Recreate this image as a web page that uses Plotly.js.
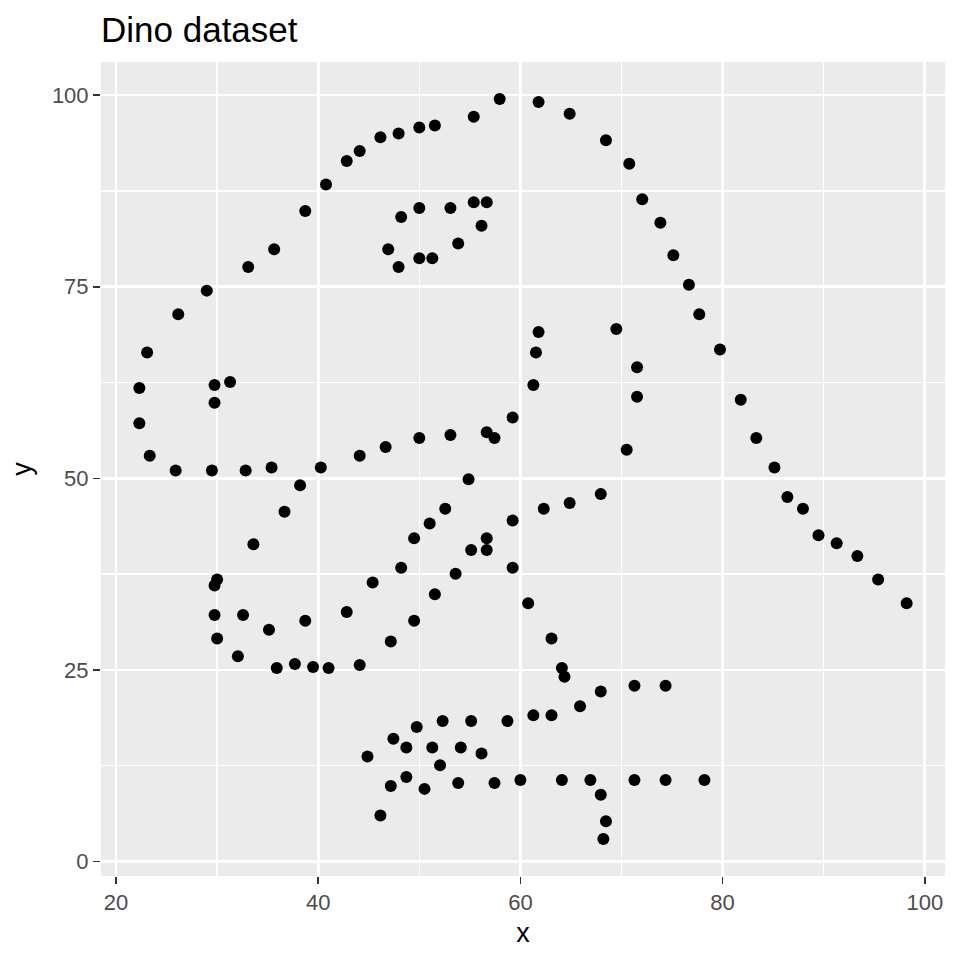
<!DOCTYPE html>
<html>
<head>
<meta charset="utf-8">
<script src="https://cdn.plot.ly/plotly-3.0.1.min.js"></script>
<style>
  html, body { margin: 0; padding: 0; background: #fff; }
  #chart { width: 960px; height: 960px; }
</style>
</head>
<body>
<div id="chart"></div>
<script>
// Datasaurus "dino" points
const dinoX = [
  55.3846, 51.5385, 46.1538, 42.8205, 40.7692, 38.7179, 35.641, 33.0769, 28.9744, 26.1538,
  23.0769, 22.3077, 22.3077, 23.3333, 25.8974, 29.4872, 32.8205, 35.3846, 40.2564, 44.1026,
  46.6667, 50, 53.0769, 56.6667, 59.2308, 61.2821, 61.5385, 61.7949, 57.4359, 54.8718,
  52.5641, 48.2051, 49.4872, 51.0256, 45.3846, 42.8205, 38.7179, 35.1282, 32.5641, 30,
  33.5897, 36.6667, 38.2051, 29.7436, 29.7436, 30, 32.0513, 35.8974, 41.0256, 44.1026,
  47.1795, 49.4872, 51.5385, 53.5897, 55.1282, 56.6667, 59.2308, 62.3077, 64.8718, 67.9487,
  70.5128, 71.5385, 71.5385, 69.4872, 46.9231, 48.2051, 50, 53.0769, 55.3846, 56.6667,
  56.1538, 53.8462, 51.2821, 50, 47.9487, 29.7436, 29.7436, 31.2821, 57.9487, 61.7949,
  64.8718, 68.4615, 70.7692, 72.0513, 73.8462, 75.1282, 76.6667, 77.6923, 79.7436, 81.7949,
  83.3333, 85.1282, 86.4103, 87.9487, 89.4872, 93.3333, 95.3846, 98.2051, 56.6667, 59.2308,
  60.7692, 63.0769, 64.1026, 64.359, 74.359, 71.2821, 67.9487, 65.8974, 63.0769, 61.2821,
  58.7179, 55.1282, 52.3077, 49.7436, 47.4359, 44.8718, 48.7179, 51.2821, 54.1026, 56.1538,
  52.0513, 48.7179, 47.1795, 46.1538, 50.5128, 53.8462, 57.4359, 60, 64.1026, 66.9231,
  71.2821, 74.359, 78.2051, 67.9487, 68.4615, 68.2051, 37.6923, 39.4872, 91.2821, 50,
  47.9487, 44.1026
];
const dinoY = [
  97.1795, 96.0256, 94.4872, 91.4103, 88.3333, 84.8718, 79.8718, 77.5641, 74.4872, 71.4103,
  66.4103, 61.7949, 57.1795, 52.9487, 51.0256, 51.0256, 51.0256, 51.4103, 51.4103, 52.9487,
  54.1026, 55.2564, 55.641, 56.0256, 57.9487, 62.1795, 66.4103, 69.1026, 55.2564, 49.8718,
  46.0256, 38.3333, 42.1795, 44.1026, 36.4103, 32.5641, 31.4103, 30.2564, 32.1795, 36.7949,
  41.4103, 45.641, 49.1026, 36.0256, 32.1795, 29.1026, 26.7949, 25.2564, 25.2564, 25.641,
  28.718, 31.4103, 34.8718, 37.5641, 40.641, 42.1795, 44.4872, 46.0256, 46.7949, 47.9487,
  53.718, 60.641, 64.4872, 69.4872, 79.8718, 84.1026, 85.2564, 85.2564, 86.0256, 86.0256,
  82.9487, 80.641, 78.718, 78.718, 77.5641, 59.8718, 62.1795, 62.5641, 99.4872, 99.1026,
  97.5641, 94.1026, 91.0256, 86.4103, 83.3333, 79.1026, 75.2564, 71.4103, 66.7949, 60.2564,
  55.2564, 51.4103, 47.5641, 46.0256, 42.5641, 39.8718, 36.7949, 33.718, 40.641, 38.3333,
  33.718, 29.1026, 25.2564, 24.1026, 22.9487, 22.9487, 22.1795, 20.2564, 19.1026, 19.1026,
  18.3333, 18.3333, 18.3333, 17.5641, 16.0256, 13.7179, 14.8718, 14.8718, 14.8718, 14.1026,
  12.5641, 11.0256, 9.8718, 6.0256, 9.4872, 10.2564, 10.2564, 10.641, 10.641, 10.641,
  10.641, 10.641, 10.641, 8.718, 5.2564, 2.9487, 25.7692, 25.3846, 41.5385, 95.7692,
  95, 92.6923
];
const xTicks = [20, 40, 60, 80, 100];
const yTicks = [0, 25, 50, 75, 100];

// ggplot-style 5% expansion
function expand(arr) {
  const lo = Math.min(...arr), hi = Math.max(...arr);
  const pad = (hi - lo) * 0.05;
  return [lo - pad, hi + pad];
}

const font = "Liberation Sans, Arial, Helvetica, sans-serif";

const axisCommon = {
  showline: false,
  zeroline: false,
  gridcolor: "#ffffff",
  gridwidth: 2.7,
  ticks: "outside",
  ticklen: 7,
  tickwidth: 1.6,
  tickcolor: "#333333",
  tickfont: { family: font, size: 22, color: "#4D4D4D" },
  tickmode: "array",
  fixedrange: true
};

const layout = {
  width: 960,
  height: 960,
  paper_bgcolor: "#ffffff",
  plot_bgcolor: "#EBEBEB",
  margin: { l: 101, r: 15, t: 62, b: 84 },
  showlegend: false,
  title: {
    text: "Dino dataset",
    font: { family: font, size: 35, color: "#000000" },
    x: 0, xref: "paper", xanchor: "left",
    y: 1, yref: "container", yanchor: "top", pad: { t: 17 }
  },
  xaxis: Object.assign({}, axisCommon, {
    range: expand(dinoX),
    tickvals: xTicks,
    ticktext: xTicks.map(String),
    minor: { tickmode: "array", tickvals: [30, 50, 70, 90], showgrid: true, gridcolor: "#ffffff", gridwidth: 1.4, ticks: "" },
    title: { text: "x", font: { family: font, size: 27, color: "#000000" }, standoff: 8 }
  }),
  yaxis: Object.assign({}, axisCommon, {
    range: expand(dinoY),
    tickvals: yTicks,
    ticktext: yTicks.map(String),
    minor: { tickmode: "array", tickvals: [12.5, 37.5, 62.5, 87.5], showgrid: true, gridcolor: "#ffffff", gridwidth: 1.4, ticks: "" },
    title: { text: "y", font: { family: font, size: 27, color: "#000000" }, standoff: 12 }
  })
};

Plotly.newPlot("chart", [{
  x: dinoX,
  y: dinoY,
  type: "scatter",
  mode: "markers",
  marker: { color: "#000000", size: 12 },
  hoverinfo: "x+y"
}], layout, { displayModeBar: false, staticPlot: true });
</script>
</body>
</html>
